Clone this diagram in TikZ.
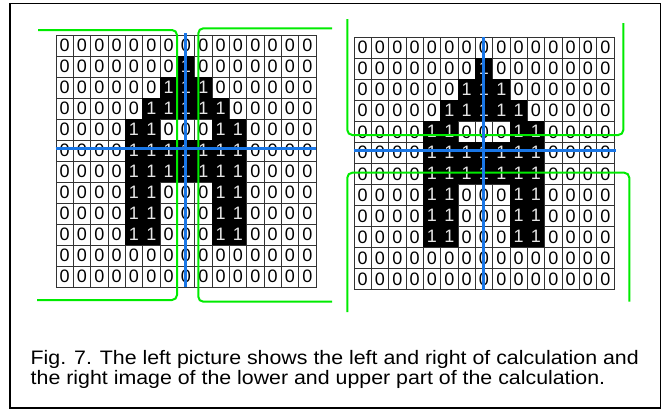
\documentclass[tikz,border=0pt]{standalone}
\usepackage{graphicx}
\usepackage{fontspec}
\setmainfont{Liberation Sans}
\definecolor{gline}{RGB}{0,235,0}
\definecolor{bline}{RGB}{25,118,230}
\tikzset{
  cellbase/.style={draw=black!80, line width=0.8pt, minimum width=17.33pt, minimum height=21pt, inner sep=0pt, font=\fontsize{18}{18}\selectfont},
  offcell/.style={cellbase, fill=white, text=black},
  oncell/.style={cellbase, fill=black, draw=black, text=black!10},
  greenline/.style={draw=gline, line width=2pt, rounded corners=5pt},
  blueline/.style={draw=bline, line width=3pt},
  frame/.style={draw=black, line width=1.5pt},
  captiontext/.style={anchor=base west, inner sep=0pt, text height=13pt, text depth=3pt, font=\fontsize{19.5}{20}\selectfont}
}
\newcommand\griddata{%
{0,0,0,0,0,0,0,0,0,0,0,0,0,0,0},%
{0,0,0,0,0,0,0,1,0,0,0,0,0,0,0},%
{0,0,0,0,0,0,1,1,1,0,0,0,0,0,0},%
{0,0,0,0,0,1,1,1,1,1,0,0,0,0,0},%
{0,0,0,0,1,1,0,0,0,1,1,0,0,0,0},%
{0,0,0,0,1,1,1,1,1,1,1,0,0,0,0},%
{0,0,0,0,1,1,1,1,1,1,1,0,0,0,0},%
{0,0,0,0,1,1,0,0,0,1,1,0,0,0,0},%
{0,0,0,0,1,1,0,0,0,1,1,0,0,0,0},%
{0,0,0,0,1,1,0,0,0,1,1,0,0,0,0},%
{0,0,0,0,0,0,0,0,0,0,0,0,0,0,0},%
{0,0,0,0,0,0,0,0,0,0,0,0,0,0,0}}
\begin{document}
\begin{tikzpicture}[x=1pt,y=-1pt]
\useasboundingbox (0,0) rectangle (664,410);
\draw[frame] (10,3.5) rectangle (660.7,408);
% grids
\foreach \g/\gx/\gy in {L/56/35, R/354/37.3} {
  \foreach \rowdata [count=\ri from 0] in \griddata {
    \foreach \v [count=\ci from 0] in \rowdata {
      \ifnum\v=1
        \node[oncell] (\g\ri-\ci) at ({\gx+(\ci+0.5)*17.33},{\gy+(\ri+0.5)*21}) {1};
      \else
        \node[offcell] (\g\ri-\ci) at ({\gx+(\ci+0.5)*17.33},{\gy+(\ri+0.5)*21}) {0};
      \fi
    }
  }
}
% green brackets, left picture
\draw[greenline] (38,30) -- (177,30) -- (177,300) -- (37,300);
\draw[greenline] (332,28.3) -- (198.3,28.3) -- (198.3,301.7) -- (332,301.7);
% green brackets, right picture
\draw[greenline] (347.3,19) -- (347.3,135) -- (623.3,135) -- (623.3,23);
\draw[greenline] (347.3,312) -- (347.3,172.7) -- (629.3,172.7) -- (629.3,301.7);
% blue lines
\draw[blueline] ([yshift=2.5pt]L5-0.west) -- ([yshift=2.5pt]L5-14.east);
\draw[blueline] ([yshift=1.5pt]L0-7.north) -- (L11-7.south);
\draw[blueline] ([yshift=2pt]R5-0.west) -- ([yshift=2pt,xshift=2pt]R5-14.east);
\draw[blueline] (R0-7.north) -- (R11-7.south);
% caption
\node[captiontext] (cap1) at (30.5,364) {\scalebox{1.095}[1]{Fig. 7. The left picture shows the left and right of calculation and}};
\node[captiontext] (cap2) at (30.5,384) {\scalebox{1.095}[1]{the right image of the lower and upper part of the calculation.}};
\end{tikzpicture}
\end{document}
